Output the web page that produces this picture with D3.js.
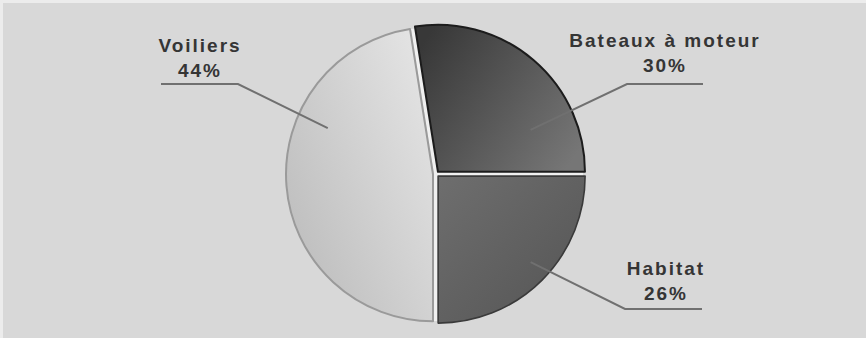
<!DOCTYPE html>
<html>
<head>
<meta charset="utf-8">
<script src="https://cdn.jsdelivr.net/npm/d3@7"></script>
<style>
  body{margin:0;background:#ececec;}
  svg{display:block;}
</style>
</head>
<body>
<svg id="pie" width="866" height="338"></svg>
<script>
const categories=["Bateaux à moteur","Habitat","Voiliers"];
// slice sizes as drawn in the picture (the printed labels differ a little)
const shares=[27.5,25,47.5];
const pctLabels=["30%","26%","44%"];

// look of each slice (gradient stops, outline)
const sliceStyle=[
    {from:"#383838",to:"#767676",x1:0,y1:0.2,x2:1,y2:0.8,stroke:"#1c1c1c",sw:2},
    {from:"#6e6e6e",to:"#545454",x1:0,y1:0,x2:1,y2:1,stroke:"#3a3a3a",sw:1.6},
    {from:"#e3e3e3",to:"#b8b8b8",x1:1,y1:0.2,x2:0,y2:1,stroke:"#9a9a9a",sw:2}
];

// label placement, relative to the pie centre (angle in degrees, radius as fraction)
const labelLayout=[
    {ang:65,  rf:0.71, elbow:[191,-90], end:267, tx:229, ty:-127},
    {ang:133, rf:0.88, elbow:[189,135], end:266, tx:230, ty:101},
    {ang:293, rf:0.80, elbow:[-198,-90],end:-275,tx:-236,ty:-122}
];

const svg=d3.select("#pie");
const W=+svg.attr("width"), H=+svg.attr("height");
svg.append("rect").attr("x",3).attr("y",3).attr("width",W-3).attr("height",H-3).attr("fill","#d8d8d8");

const cx=436, cy=174, r=147, explode=3;
const total=d3.sum(shares);
const start=Math.PI/2-2*Math.PI*shares[0]/total;

const data=categories.map((c,i)=>({name:c,value:shares[i],pct:pctLabels[i],i:i}));
const pie=d3.pie().sort(null).value(d=>d.value).startAngle(start).endAngle(start+2*Math.PI);
const arcs=pie(data);
const arc=d3.arc().innerRadius(0).outerRadius(r);

const defs=svg.append("defs");
sliceStyle.forEach((s,i)=>{
    const g=defs.append("linearGradient").attr("id","grad"+i)
        .attr("x1",s.x1).attr("y1",s.y1).attr("x2",s.x2).attr("y2",s.y2);
    g.append("stop").attr("offset","0%").attr("stop-color",s.from);
    g.append("stop").attr("offset","100%").attr("stop-color",s.to);
});

const g=svg.append("g").attr("transform",`translate(${cx},${cy})`);

// light gaps along the slice borders
g.selectAll(".gap")
    .data(arcs)
    .enter()
    .append("line")
    .attr("x1",0).attr("y1",0)
    .attr("x2",d=>Math.sin(d.startAngle)*r)
    .attr("y2",d=>-Math.cos(d.startAngle)*r)
    .attr("stroke","#f0f0f0")
    .attr("stroke-width",4);

g.selectAll(".slice")
    .data(arcs)
    .enter()
    .append("path")
    .attr("class","slice")
    .attr("transform",d=>{
        const m=(d.startAngle+d.endAngle)/2;
        return `translate(${Math.sin(m)*explode},${-Math.cos(m)*explode})`;
    })
    .attr("d",arc)
    .attr("fill",d=>`url(#grad${d.data.i})`)
    .attr("stroke",d=>sliceStyle[d.data.i].stroke)
    .attr("stroke-width",d=>sliceStyle[d.data.i].sw)
    .attr("stroke-linejoin","round");

// leader lines
g.selectAll(".leader")
    .data(arcs)
    .enter()
    .append("polyline")
    .attr("points",d=>{
        const L=labelLayout[d.data.i];
        const a=L.ang*Math.PI/180;
        const p0=[Math.sin(a)*r*L.rf,-Math.cos(a)*r*L.rf];
        return [p0,L.elbow,[L.end,L.elbow[1]]].map(p=>p.join(",")).join(" ");
    })
    .attr("fill","none")
    .attr("stroke","#707070")
    .attr("stroke-width",2);

const labels=g.selectAll(".lbl")
    .data(arcs)
    .enter()
    .append("text")
    .attr("text-anchor","middle")
    .attr("font-family","'Liberation Sans', Arial, sans-serif")
    .attr("font-weight","bold")
    .attr("font-size",19)
    .attr("letter-spacing",2)
    .attr("fill","#353535");
labels.append("tspan")
    .attr("x",d=>labelLayout[d.data.i].tx)
    .attr("y",d=>labelLayout[d.data.i].ty)
    .text(d=>d.data.name);
labels.append("tspan")
    .attr("x",d=>labelLayout[d.data.i].tx)
    .attr("dy",25)
    .text(d=>d.data.pct);
</script>
</body>
</html>
